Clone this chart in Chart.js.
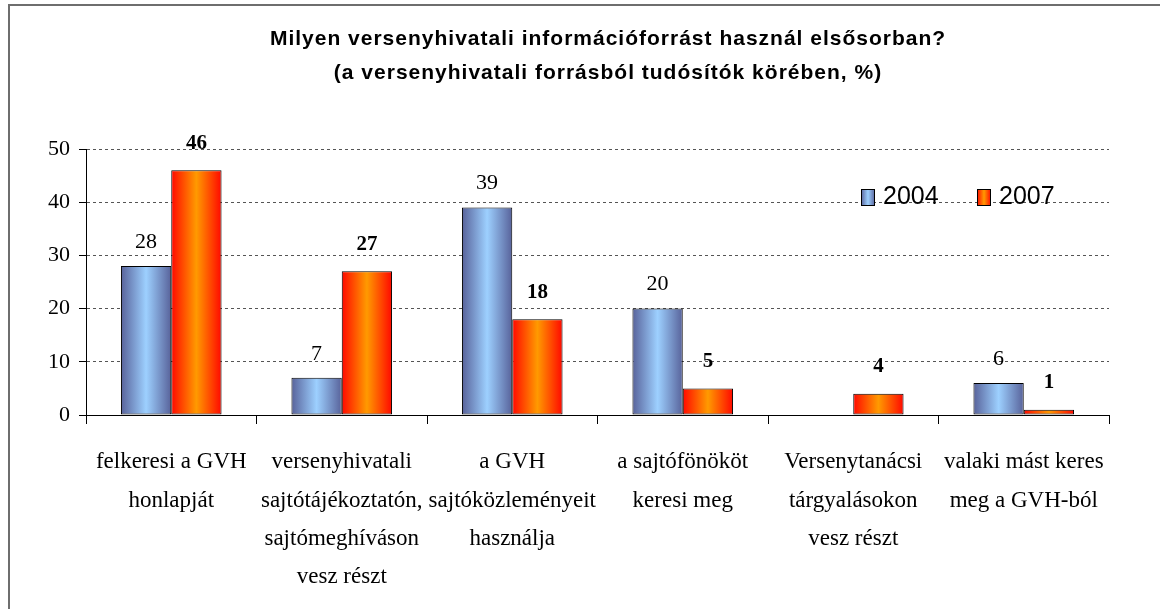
<!DOCTYPE html>
<html>
<head>
<meta charset="utf-8">
<script src="https://cdn.jsdelivr.net/npm/chart.js@4.4.1/dist/chart.umd.min.js"></script>
<style>
  html, body { margin: 0; padding: 0; background: #fff; }
  #wrap { width: 1160px; height: 609px; }
</style>
</head>
<body>
<div id="wrap"><canvas id="gvhChart" width="1160" height="609"></canvas></div>
<script>
const titleLines = [
    'Milyen versenyhivatali információforrást használ elsősorban?',
    '(a versenyhivatali forrásból tudósítók körében, %)'
];
const categories = [
    ['felkeresi a GVH', 'honlapját'],
    ['versenyhivatali', 'sajtótájékoztatón,', 'sajtómeghíváson', 'vesz részt'],
    ['a GVH', 'sajtóközleményeit', 'használja'],
    ['a sajtófönököt', 'keresi meg'],
    ['Versenytanácsi', 'tárgyalásokon', 'vesz részt'],
    ['valaki mást keres', 'meg a GVH-ból']
];
const seriesNames = ['2004', '2007'];
const values2004 = [28, 7, 39, 20, null, 6];
const values2007 = [46, 27, 18, 5, 4, 1];
const yTicks = [0, 10, 20, 30, 40, 50];

const CAT_PCT = 0.59;
const gradStops = [
    ['#58629a', '#9dd0ff'],   // blue bars
    ['#ff0800', '#ff9a00']    // orange bars
];

function barGradient(ctx, left, right, idx) {
    const g = ctx.createLinearGradient(left, 0, right, 0);
    const [edge, mid] = gradStops[idx];
    g.addColorStop(0, edge);
    g.addColorStop(0.5, mid);
    g.addColorStop(1, edge);
    return g;
}

// gradient per bar, worked out from the category scale
function barFill(c) {
    const chart = c.chart;
    const xs = chart.scales.x;
    if (!xs || xs.width == null || c.dataIndex == null) return gradStops[c.datasetIndex][1];
    const catW = xs.width / categories.length;
    const barW = catW * CAT_PCT / 2;
    const center = xs.getPixelForValue(c.dataIndex);
    const left = c.datasetIndex === 0 ? center - barW : center;
    return barGradient(chart.ctx, left, left + barW, c.datasetIndex);
}

const framePlugin = {
    id: 'frame',
    beforeDraw(chart) {
        const ctx = chart.ctx;
        ctx.save();
        ctx.fillStyle = '#fff';
        ctx.fillRect(0, 0, chart.width, chart.height);
        ctx.strokeStyle = '#6e6e6e';
        ctx.lineWidth = 2;
        ctx.beginPath();
        ctx.moveTo(9, chart.height);
        ctx.lineTo(9, 5);
        ctx.lineTo(chart.width, 5);
        ctx.stroke();

        ctx.fillStyle = '#000';
        ctx.font = 'bold 21px "Liberation Sans", Arial, sans-serif';
        ctx.textAlign = 'center';
        ctx.textBaseline = 'middle';
        ctx.letterSpacing = '1px';
        ctx.fillText(titleLines[0], 608, 39);
        ctx.fillText(titleLines[1], 608, 73);
        ctx.restore();
    }
};

const legendPlugin = {
    id: 'insideLegend',
    afterDraw(chart) {
        const ctx = chart.ctx;
        const items = [{ x: 861 }, { x: 977 }];
        ctx.save();
        ctx.font = '25px "Liberation Sans", Arial, sans-serif';
        ctx.textBaseline = 'middle';
        ctx.textAlign = 'left';
        items.forEach((it, i) => {
            const bx = it.x, by = 189, bw = 14, bh = 17;
            ctx.fillStyle = barGradient(ctx, bx, bx + bw, i);
            ctx.fillRect(bx, by, bw, bh);
            ctx.strokeStyle = '#000';
            ctx.lineWidth = 1;
            ctx.strokeRect(bx + 0.5, by + 0.5, bw - 1, bh - 1);
            ctx.fillStyle = '#000';
            ctx.fillText(seriesNames[i], bx + 22, 197);
        });
        ctx.restore();
    }
};

const labelPlugin = {
    id: 'barLabels',
    afterDatasetsDraw(chart) {
        const ctx = chart.ctx;
        ctx.save();
        ctx.textAlign = 'center';
        ctx.textBaseline = 'middle';
        ctx.fillStyle = '#000';
        chart.data.datasets.forEach((ds, di) => {
            const meta = chart.getDatasetMeta(di);
            ctx.font = (di === 1 ? 'bold 21px' : '22px') + ' "Liberation Serif", "Times New Roman", serif';
            meta.data.forEach((el, i) => {
                const v = ds.data[i];
                if (v == null) return;
                ctx.fillText(String(v), el.x, el.y - (di === 1 ? 27 : 24));
            });
        });
        ctx.restore();
    }
};

new Chart(document.getElementById('gvhChart'), {
    type: 'bar',
    data: {
        labels: categories,
        datasets: [
            { label: seriesNames[0], data: values2004, backgroundColor: barFill, borderColor: '#000', borderWidth: 1, borderSkipped: false },
            { label: seriesNames[1], data: values2007, backgroundColor: barFill, borderColor: '#000', borderWidth: 1, borderSkipped: false }
        ]
    },
    options: {
        responsive: false,
        animation: false,
        events: [],
        categoryPercentage: CAT_PCT,
        barPercentage: 1,
        layout: { padding: { top: 149, right: 51, left: 0, bottom: 0 } },
        plugins: { legend: { display: false }, title: { display: false }, tooltip: { enabled: false } },
        scales: {
            x: {
                offset: true,
                grid: { display: true, drawOnChartArea: false, offset: true, tickLength: 9, tickColor: '#000', color: '#000' },
                border: { color: '#000', width: 1 },
                ticks: {
                    color: '#000', padding: 19, maxRotation: 0, minRotation: 0, autoSkip: false,
                    font: { family: '"Liberation Serif", "Times New Roman", serif', size: 23, lineHeight: 1.67 }
                },
                afterFit(s) { s.height = 609 - 415; }
            },
            y: {
                min: 0, max: 50,
                afterBuildTicks(s) { s.ticks = yTicks.map(v => ({ value: v })); },
                grid: { color: '#555', tickColor: '#000', tickLength: 7, lineWidth: 1 },
                border: { color: '#000', width: 1, dash: [3, 3] },
                ticks: {
                    color: '#000', padding: 9,
                    font: { family: '"Liberation Serif", "Times New Roman", serif', size: 22 }
                },
                afterFit(s) { s.width = 86; }
            }
        }
    },
    plugins: [framePlugin, legendPlugin, labelPlugin]
});
</script>
</body>
</html>
